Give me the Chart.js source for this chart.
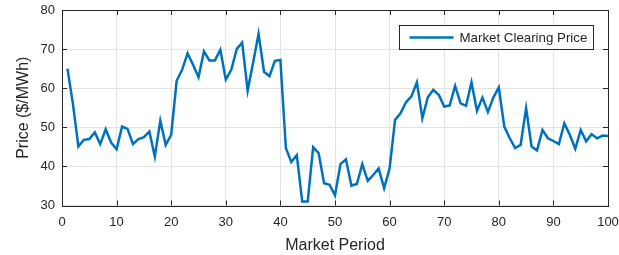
<!DOCTYPE html>
<html>
<head>
<meta charset="utf-8">
<script src="https://cdn.jsdelivr.net/npm/chart.js@4/dist/chart.umd.min.js"></script>
<style>
  html, body { margin: 0; padding: 0; background: #ffffff; }
  #wrap { width: 619px; height: 255px; }
</style>
</head>
<body>
<div id="wrap"><canvas id="priceChart" width="619" height="255"></canvas></div>
<script>
// Market periods (x) and clearing prices
const periods = [
  1, 2, 3, 4, 5, 6, 7, 8, 9, 10,
  11, 12, 13, 14, 15, 16, 17, 18, 19, 20,
  21, 22, 23, 24, 25, 26, 27, 28, 29, 30,
  31, 32, 33, 34, 35, 36, 37, 38, 39, 40,
  41, 42, 43, 44, 45, 46, 47, 48, 49, 50,
  51, 52, 53, 54, 55, 56, 57, 58, 59, 60,
  61, 62, 63, 64, 65, 66, 67, 68, 69, 70,
  71, 72, 73, 74, 75, 76, 77, 78, 79, 80,
  81, 82, 83, 84, 85, 86, 87, 88, 89, 90,
  91, 92, 93, 94, 95, 96, 97, 98, 99, 100
];
const prices = [
  65.0, 56.0, 45.1, 46.8, 47.0, 48.7, 45.7, 49.5, 46.1, 44.4,
  50.2, 49.6, 45.7, 47.0, 47.5, 48.9, 42.5, 51.7, 45.5, 48.1,
  61.9, 64.7, 68.9, 66.0, 62.8, 69.4, 67.1, 67.1, 69.8, 62.2,
  64.7, 70.0, 71.7, 59.4, 66.5, 73.9, 64.2, 63.1, 67.0, 67.2,
  44.7, 41.1, 42.9, 31.0, 31.0, 44.9, 43.4, 35.7, 35.3, 32.6,
  40.6, 41.8, 35.1, 35.5, 40.6, 36.3, 37.8, 39.5, 34.4, 39.5,
  51.9, 53.6, 56.4, 57.9, 61.5, 52.3, 57.7, 59.6, 58.3, 55.3,
  55.6, 60.6, 56.1, 55.5, 61.5, 54.2, 57.6, 53.9, 57.6, 60.2,
  50.2, 47.2, 44.7, 45.5, 54.9, 45.1, 44.1, 49.3, 47.2, 46.5,
  45.7, 51.0, 48.1, 44.5, 49.3, 46.4, 48.2, 47.2, 47.9, 47.8
];
const xTicks = [0, 10, 20, 30, 40, 50, 60, 70, 80, 90, 100];
const yTicks = [30, 40, 50, 60, 70, 80];
const seriesLabel = "Market Clearing Price";

const FONT = "'Liberation Sans', Arial, Helvetica, sans-serif";
const AXIS_COLOR = "#262626";
const LINE_COLOR = "#0072BD";

// box around the axes with inward tick marks (MATLAB style)
const axesFrame = {
  id: "axesFrame",
  afterDatasetsDraw(chart) {
    const { ctx, chartArea: a, scales } = chart;
    const len = 5;
    ctx.save();
    ctx.strokeStyle = AXIS_COLOR;
    ctx.lineWidth = 1;
    ctx.beginPath();
    scales.x.ticks.forEach((t) => {
      const px = Math.round(scales.x.getPixelForValue(t.value)) + 0.5;
      ctx.moveTo(px, a.bottom);
      ctx.lineTo(px, a.bottom - len);
      ctx.moveTo(px, a.top);
      ctx.lineTo(px, a.top + len);
    });
    scales.y.ticks.forEach((t) => {
      const py = Math.round(scales.y.getPixelForValue(t.value)) + 0.5;
      ctx.moveTo(a.left, py);
      ctx.lineTo(a.left + len, py);
      ctx.moveTo(a.right, py);
      ctx.lineTo(a.right - len, py);
    });
    ctx.stroke();
    ctx.strokeRect(
      Math.round(a.left) + 0.5,
      Math.round(a.top) + 0.5,
      Math.round(a.right - a.left),
      Math.round(a.bottom - a.top)
    );
    ctx.restore();
  },
};

// legend box in the upper right corner of the axes
const insideLegend = {
  id: "insideLegend",
  afterDraw(chart) {
    const { ctx, chartArea: a } = chart;
    const ds = chart.data.datasets[0];
    const w = 194, h = 24;
    const x = Math.round(a.right - 15 - w) + 0.5;
    const y = Math.round(a.top + 15) + 0.5;
    ctx.save();
    ctx.fillStyle = "#ffffff";
    ctx.fillRect(x, y, w, h);
    ctx.strokeStyle = AXIS_COLOR;
    ctx.lineWidth = 1;
    ctx.strokeRect(x, y, w, h);
    ctx.strokeStyle = ds.borderColor;
    ctx.lineWidth = ds.borderWidth;
    ctx.beginPath();
    ctx.moveTo(x + 10, y + h / 2);
    ctx.lineTo(x + 54, y + h / 2);
    ctx.stroke();
    ctx.fillStyle = AXIS_COLOR;
    ctx.font = "13.3px " + FONT;
    ctx.textBaseline = "middle";
    ctx.fillText(ds.label, x + 60, y + h / 2 + 0.5);
    ctx.restore();
  },
};

const ctx1 = document.getElementById("priceChart").getContext("2d");

const priceChart = new Chart(ctx1, {
  type: "line",
  data: {
    datasets: [
      {
        label: seriesLabel,
        data: periods.map((p, i) => ({ x: p, y: prices[i] })),
        borderColor: LINE_COLOR,
        backgroundColor: LINE_COLOR,
        borderWidth: 2.5,
        pointRadius: 0,
        tension: 0,
        fill: false,
      },
    ],
  },
  options: {
    responsive: false,
    animation: false,
    devicePixelRatio: 1,
    layout: {
      padding: { top: 10, right: 11, bottom: 0, left: 0 },
    },
    scales: {
      x: {
        type: "linear",
        min: 0,
        max: 100,
        afterBuildTicks: (scale) => {
          scale.ticks = xTicks.map((v) => ({ value: v }));
        },
        afterFit: (scale) => {
          scale.height = 49.5;
          scale.paddingLeft = 0;
          scale.paddingRight = 0;
        },
        grid: { color: "#e3e3e3", drawTicks: false },
        border: { display: false },
        ticks: {
          color: AXIS_COLOR,
          padding: 9,
          maxRotation: 0,
          autoSkip: false,
          font: { family: FONT, size: 13 },
        },
        title: {
          display: true,
          text: "Market Period",
          color: AXIS_COLOR,
          padding: { top: 0, bottom: 0 },
          font: { family: FONT, size: 16 },
        },
      },
      y: {
        type: "linear",
        min: 30,
        max: 80,
        afterBuildTicks: (scale) => {
          scale.ticks = yTicks.map((v) => ({ value: v }));
        },
        afterFit: (scale) => {
          scale.width = 62;
          scale.paddingTop = 0;
          scale.paddingBottom = 0;
        },
        grid: { color: "#e3e3e3", drawTicks: false },
        border: { display: false },
        ticks: {
          color: AXIS_COLOR,
          padding: 7,
          autoSkip: false,
          font: { family: FONT, size: 13 },
        },
        title: {
          display: true,
          text: "Price ($/MWh)",
          color: AXIS_COLOR,
          padding: { top: 14, bottom: 0 },
          font: { family: FONT, size: 16 },
        },
      },
    },
    plugins: {
      legend: { display: false },
      tooltip: { enabled: false },
    },
  },
  plugins: [axesFrame, insideLegend],
});
</script>
</body>
</html>
